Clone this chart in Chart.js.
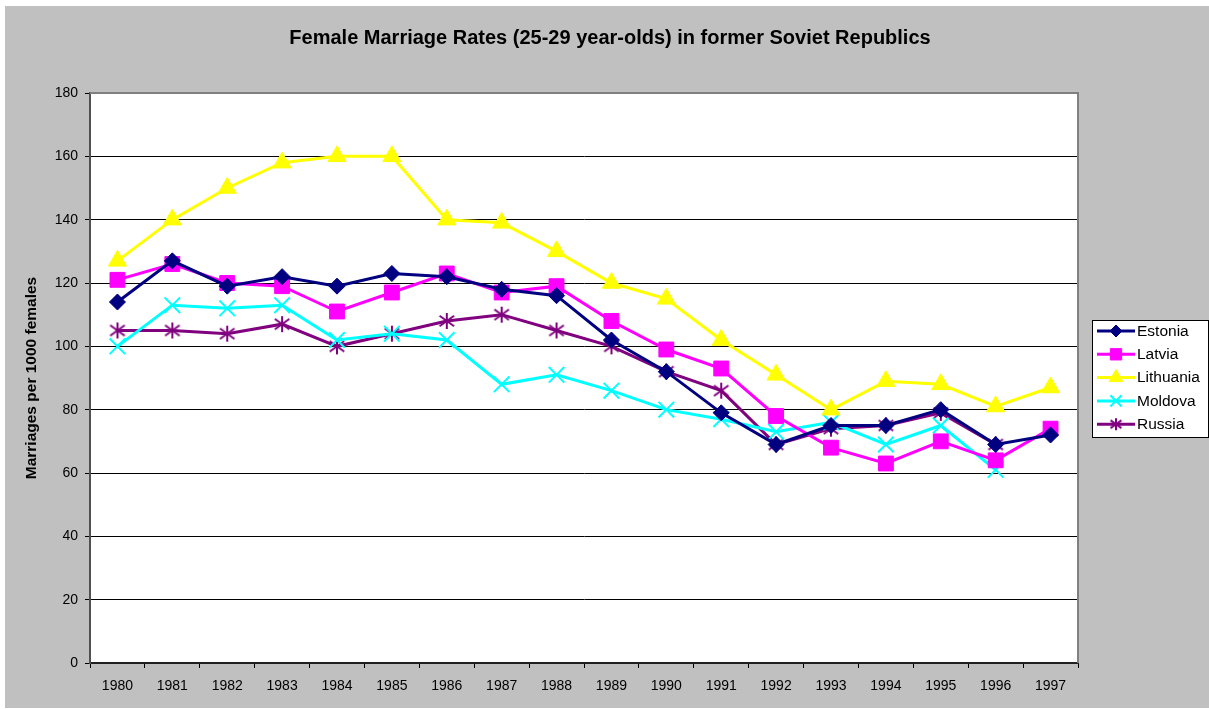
<!DOCTYPE html>
<html>
<head>
<meta charset="utf-8">
<script src="https://cdn.jsdelivr.net/npm/chart.js@4.4.1/dist/chart.umd.min.js"></script>
<style>
  html, body { margin: 0; padding: 0; background: #ffffff; width: 1209px; height: 709px; overflow: hidden; }
  #wrap { position: absolute; left: 5px; top: 6px; width: 1204px; height: 702px; background: #c0c0c0; }
  canvas { display: block; }
</style>
</head>
<body>
<div id="wrap"><canvas id="c" width="1204" height="702"></canvas></div>
<script>
// ---- data ----
const years = ['1980','1981','1982','1983','1984','1985','1986','1987','1988','1989','1990','1991','1992','1993','1994','1995','1996','1997'];
const estonia   = [114, 127, 119, 122, 119, 123, 122, 118, 116, 102, 92, 79, 69, 75, 75, 80, 69, 72];
const latvia    = [121, 126, 120, 119, 111, 117, 123, 117, 119, 108, 99, 93, 78, 68, 63, 70, 64, 74];
const lithuania = [127, 140, 150, 158, 160, 160, 140, 139, 130, 120, 115, 102, 91, 80, 89, 88, 81, 87];
const moldova   = [100, 113, 112, 113, 102, 104, 102, 88, 91, 86, 80, 77, 73, 76, 69, 75, 61, null];
const russia    = [105, 105, 104, 107, 100, 104, 108, 110, 105, 100, 92, 86, 69, 74, 75, 79, 69, null];
const yTicks    = [0, 20, 40, 60, 80, 100, 120, 140, 160, 180];
const seriesNames = ['Estonia', 'Latvia', 'Lithuania', 'Moldova', 'Russia'];

const FONT = "'Liberation Sans', Arial, sans-serif";

function makeAsterisk(size, color, lw) {
  const c = document.createElement('canvas');
  c.width = size; c.height = size;
  const g = c.getContext('2d');
  g.strokeStyle = color; g.lineWidth = lw; g.lineCap = 'butt';
  const m = size / 2, r = size / 2 - 1;
  g.beginPath();
  g.moveTo(m, m - r); g.lineTo(m, m + r);
  const dx = r * Math.cos(Math.PI / 6), dy = r * Math.sin(Math.PI / 6);
  g.moveTo(m - dx * 1.05, m - dy * 1.3); g.lineTo(m + dx * 1.05, m + dy * 1.3);
  g.moveTo(m - dx * 1.05, m + dy * 1.3); g.lineTo(m + dx * 1.05, m - dy * 1.3);
  g.stroke();
  return c;
}

const colors = ['#000080', '#ff00ff', '#ffff00', '#00ffff', '#800080'];
const styles = [
  { pointStyle: 'rectRot', pointRadius: 8, pointBorderWidth: 1 },
  { pointStyle: 'rect', pointRadius: 10.5, pointBorderWidth: 1 },
  { pointStyle: 'triangle', pointRadius: 10.5, pointBorderWidth: 1 },
  { pointStyle: 'crossRot', pointRadius: 11, pointBorderWidth: 2 },
  { pointStyle: makeAsterisk(18, '#800080', 2), pointRadius: 9, pointBorderWidth: 2 }
];
const legendStyles = [
  { pointStyle: 'rectRot', radius: 6, borderWidth: 1 },
  { pointStyle: 'rect', radius: 8, borderWidth: 1 },
  { pointStyle: 'triangle', radius: 8, borderWidth: 1 },
  { pointStyle: 'crossRot', radius: 8, borderWidth: 2 },
  { pointStyle: makeAsterisk(14, '#800080', 2), radius: 7, borderWidth: 2 }
];
const values = [estonia, latvia, lithuania, moldova, russia];

const datasets = seriesNames.map((name, i) => Object.assign({
  label: name,
  data: values[i],
  borderColor: colors[i],
  backgroundColor: colors[i],
  pointBackgroundColor: colors[i],
  pointBorderColor: colors[i],
  borderWidth: 3,
  tension: 0,
  spanGaps: false,
  pointHoverRadius: 0
}, styles[i]));

const bgPlugin = {
  id: 'plotBg',
  beforeDraw(chart) {
    const { ctx, chartArea: a } = chart;
    ctx.save();
    ctx.fillStyle = '#ffffff';
    ctx.fillRect(a.left, a.top, a.right - a.left, a.bottom - a.top);
    ctx.restore();
  },
  afterDatasetsDraw(chart) {
    const { ctx, chartArea: a } = chart;
    ctx.save();
    ctx.strokeStyle = '#808080';
    ctx.lineWidth = 2;
    ctx.beginPath();
    ctx.moveTo(a.left, a.top);
    ctx.lineTo(a.right, a.top);
    ctx.lineTo(a.right, a.bottom);
    ctx.stroke();
    ctx.restore();
  }
};

const legendPlugin = {
  id: 'excelLegend',
  afterDraw(chart) {
    const { ctx } = chart;
    const bx = 1087.5, by = 314.5, bw = 116, bh = 117;
    ctx.save();
    ctx.fillStyle = '#ffffff';
    ctx.fillRect(bx, by, bw, bh);
    ctx.strokeStyle = '#000000';
    ctx.lineWidth = 1;
    ctx.strokeRect(bx, by, bw, bh);
    const rows = chart.data.datasets.length;
    for (let i = 0; i < rows; i++) {
      const ds = chart.data.datasets[i];
      const y = 325 + i * 23.3;
      ctx.strokeStyle = ds.borderColor;
      ctx.lineWidth = 3;
      ctx.beginPath();
      ctx.moveTo(1092, y); ctx.lineTo(1130, y);
      ctx.stroke();
      ctx.fillStyle = ds.borderColor;
      ctx.strokeStyle = ds.borderColor;
      ctx.lineWidth = legendStyles[i].borderWidth;
      Chart.helpers.drawPoint(ctx, { pointStyle: legendStyles[i].pointStyle, radius: legendStyles[i].radius, rotation: 0, borderWidth: legendStyles[i].borderWidth }, 1111, y);
      ctx.fillStyle = '#000000';
      ctx.font = '15.5px ' + FONT;
      ctx.textBaseline = 'middle';
      ctx.textAlign = 'left';
      ctx.fillText(ds.label, 1132, y + 0.5);
    }
    ctx.restore();
  }
};

new Chart(document.getElementById('c'), {
  type: 'line',
  data: { labels: years, datasets },
  plugins: [bgPlugin, legendPlugin],
  options: {
    responsive: false,
    animation: false,
    events: [],
    layout: { padding: { left: 6, right: 0, top: 0, bottom: 0 } },
    plugins: {
      legend: { display: false },
      tooltip: { enabled: false },
      title: {
        display: true,
        text: 'Female Marriage Rates (25-29 year-olds) in former Soviet Republics',
        color: '#000000',
        font: { family: FONT, size: 20, weight: 'bold' },
        padding: { top: 20, bottom: 43 }
      }
    },
    scales: {
      x: {
        type: 'category',
        offset: true,
        grid: { display: true, offset: true, drawOnChartArea: false, drawTicks: true, tickLength: 5, color: '#000000', tickColor: '#000000', lineWidth: 1 },
        border: { display: true, color: '#202020', width: 2 },
        ticks: { color: '#000000', font: { family: FONT, size: 14 }, padding: 10, maxRotation: 0, autoSkip: false },
        afterFit(s) { s.height = 45; }
      },
      y: {
        min: 0, max: 180,
        afterBuildTicks(s) { s.ticks = yTicks.map(v => ({ value: v })); },
        grid: { display: true, color: '#000000', lineWidth: 1, drawTicks: true, tickLength: 5, tickColor: '#000000' },
        border: { display: true, color: '#505050', width: 2 },
        ticks: { color: '#000000', font: { family: FONT, size: 14 }, padding: 7 },
        title: {
          display: true,
          text: 'Marriages per 1000 females',
          color: '#000000',
          font: { family: FONT, size: 15.5, weight: 'bold' },
          padding: { top: 11, bottom: 0 }
        },
        afterFit(s) { s.width = 79; }
      },
      yR: {
        position: 'right',
        display: true,
        grid: { display: false },
        border: { display: false },
        ticks: { display: false },
        afterFit(s) { s.width = 131; }
      }
    }
  }
});
</script>
</body>
</html>
